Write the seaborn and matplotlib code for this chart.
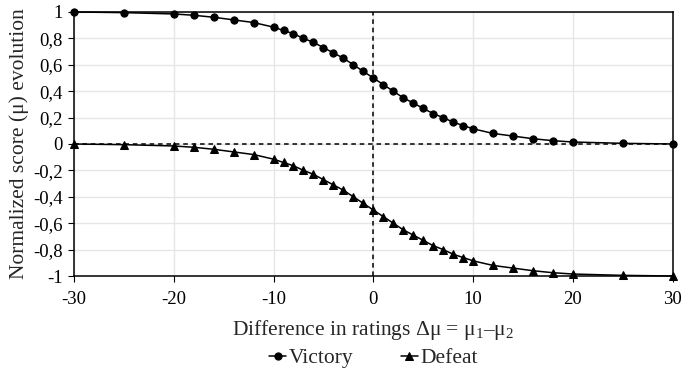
import pandas as pd
import matplotlib
matplotlib.use('Agg')
import matplotlib.pyplot as plt
import seaborn as sns
from matplotlib.ticker import FuncFormatter

# rating difference (x) and normalized score evolution for each outcome
delta_mu = [-30, -25, -20, -18, -16, -14, -12, -10, -9, -8, -7, -6, -5, -4, -3, -2, -1, 0,
            1, 2, 3, 4, 5, 6, 7, 8, 9, 10, 12, 14, 16, 18, 20, 25, 30]
victory = [1.0, 0.995, 0.985, 0.975, 0.96, 0.94, 0.92, 0.885, 0.86, 0.835, 0.80, 0.77, 0.73,
           0.69, 0.65, 0.60, 0.55, 0.50, 0.45, 0.40, 0.35, 0.31, 0.27, 0.23, 0.20, 0.165,
           0.14, 0.115, 0.08, 0.06, 0.04, 0.025, 0.015, 0.005, 0.0]
defeat = [-0.0, -0.005, -0.015, -0.025, -0.04, -0.06, -0.08, -0.115, -0.14, -0.165, -0.20,
          -0.23, -0.27, -0.31, -0.35, -0.40, -0.45, -0.50, -0.55, -0.60, -0.65, -0.69, -0.73,
          -0.77, -0.80, -0.835, -0.86, -0.885, -0.92, -0.94, -0.96, -0.975, -0.985, -0.995, -1.0]

df = pd.concat([
    pd.DataFrame({'dmu': delta_mu, 'score': victory, 'Result': 'Victory'}),
    pd.DataFrame({'dmu': delta_mu, 'score': defeat, 'Result': 'Defeat'}),
])

sns.set_style('white')
plt.rcParams['font.family'] = ['Liberation Serif', 'DejaVu Serif']
plt.rcParams['mathtext.fontset'] = 'custom'
plt.rcParams['mathtext.rm'] = 'Liberation Serif'
plt.rcParams['mathtext.it'] = 'Liberation Serif:italic'

fig, ax = plt.subplots(figsize=(6.85, 3.74), dpi=100)
fig.subplots_adjust(left=0.108, right=0.982, top=0.968, bottom=0.262)

# light grid + dashed zero lines
ax.set_xticks(range(-30, 31, 10))
ax.set_yticks([-1, -0.8, -0.6, -0.4, -0.2, 0, 0.2, 0.4, 0.6, 0.8, 1])
ax.grid(True, color='#e6e6e6', linewidth=1)
ax.axvline(0, color='black', linestyle='--', linewidth=1.1, dashes=(3, 2.5), zorder=1)
ax.axhline(0, color='black', linestyle='--', linewidth=1.1, dashes=(3, 2.5), zorder=1)

sns.lineplot(data=df, x='dmu', y='score', hue='Result', style='Result',
             markers={'Victory': 'o', 'Defeat': '^'}, dashes=False,
             palette={'Victory': 'black', 'Defeat': 'black'},
             linewidth=1.1, markersize=5.2, markeredgecolor='black', ax=ax, zorder=3)
for ln in ax.lines[2:]:
    ln.set_clip_on(False)

ax.set_xlim(-30, 30)
ax.set_ylim(-1, 1)
ax.yaxis.set_major_formatter(FuncFormatter(lambda v, p: ('%g' % round(v, 1)).replace('.', ',')))
ax.xaxis.set_major_formatter(FuncFormatter(lambda v, p: '%d' % v))

for s in ax.spines.values():
    s.set_color('black')
    s.set_linewidth(1.1)
ax.tick_params(axis='both', direction='out', length=4, width=0.8, colors='black',
               labelsize=13.5, bottom=True, left=True, pad=4)
ax.tick_params(axis='x', pad=7)

ax.set_xlabel('Difference in ratings \u0394\u03bc = \u03bc$_1$\u2013\u03bc$_2$', fontsize=15.5, labelpad=7)
ax.set_ylabel('Normalized score (\u03bc) evolution', fontsize=15.5, labelpad=3)

ax.legend(loc='upper center', bbox_to_anchor=(0.5, -0.225), ncol=2, frameon=False,
          fontsize=15.5, handlelength=0.8, handletextpad=0.1, columnspacing=2.2,
          borderaxespad=0.2)

fig.savefig('out.png', dpi=100)
